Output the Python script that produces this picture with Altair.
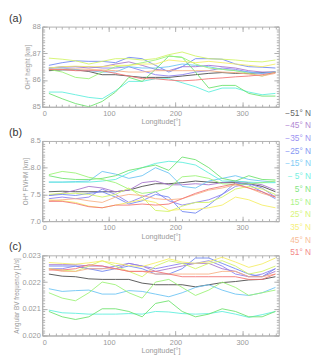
import altair as alt
import pandas as pd

# ---------------- data ----------------
lons = [10, 30, 50, 70, 90, 110, 130, 150, 170, 190, 210, 230, 250, 270, 290, 310, 330, 350]

lat_labels = ["−51° N", "−45° N", "−35° N", "−25° N", "−15° N", "− 5° N",
              "5° N", "15° N", "25° N", "35° N", "45° N", "51° N"]
lat_colors = ["#4a4a4a", "#a674cc", "#8c7ff0", "#6f86f2", "#6cc4f4", "#5eeedd",
              "#6ee26e", "#9cf276", "#d2f466", "#f5ee66", "#f8b286", "#f27474"]

height = {
    "−51° N": [86.35, 86.38, 86.38, 86.32, 86.2, 86.2, 86.15, 86.1, 86.1, 86.1, 86.15, 86.2, 86.25, 86.28, 86.25, 86.25, 86.28, 86.3],
    "−45° N": [86.45, 86.48, 86.5, 86.45, 86.5, 86.6, 86.68, 86.55, 86.4, 86.35, 86.5, 86.5, 86.55, 86.5, 86.45, 86.35, 86.3, 86.3],
    "−35° N": [86.45, 86.5, 86.5, 86.5, 86.45, 86.45, 86.5, 86.35, 86.2, 86.15, 86.2, 86.3, 86.35, 86.45, 86.4, 86.3, 86.25, 86.3],
    "−25° N": [86.55, 86.65, 86.72, 86.7, 86.7, 86.65, 86.85, 86.8, 86.55, 86.3, 86.5, 86.8, 86.8, 86.78, 86.6, 86.5, 86.48, 86.45],
    "−15° N": [86.45, 86.45, 86.4, 86.35, 86.3, 86.3, 86.5, 86.45, 86.45, 86.5, 86.6, 86.55, 86.5, 86.4, 86.35, 86.3, 86.25, 86.3],
    "− 5° N": [85.55, 85.55, 85.45, 85.35, 85.3, 85.6, 85.95, 85.95, 86.05, 86.05, 85.9, 85.75, 85.55, 85.7, 85.7, 85.55, 85.45, 85.5],
    "5° N":   [85.5, 85.3, 85.12, 85.0, 85.2, 85.55, 86.1, 85.95, 86.4, 86.9, 86.85, 86.3, 85.7, 85.8, 85.8, 85.5, 85.4, 85.4],
    "15° N":  [86.4, 86.3, 86.1, 86.05, 86.3, 86.5, 86.55, 86.65, 86.75, 86.9, 86.85, 86.6, 86.45, 86.4, 86.35, 86.25, 86.15, 86.3],
    "25° N":  [86.82, 86.78, 86.72, 86.6, 86.7, 86.8, 86.8, 86.75, 86.8, 86.95, 87.05, 86.9, 86.8, 86.78, 86.75, 86.7, 86.68, 86.75],
    "35° N":  [86.45, 86.5, 86.52, 86.5, 86.5, 86.55, 86.55, 86.6, 86.6, 86.75, 86.7, 86.65, 86.7, 86.65, 86.6, 86.55, 86.5, 86.6],
    "45° N":  [86.4, 86.4, 86.42, 86.4, 86.38, 86.35, 86.3, 86.3, 86.35, 86.35, 86.35, 86.35, 86.35, 86.3, 86.28, 86.22, 86.15, 86.25],
    "51° N":  [86.4, 86.4, 86.35, 86.35, 86.35, 86.25, 86.15, 86.05, 86.05, 86.0, 85.97, 86.0, 86.05, 86.08, 86.12, 86.15, 86.2, 86.28],
}

fwhm = {
    "−51° N": [7.55, 7.56, 7.55, 7.55, 7.55, 7.55, 7.58, 7.65, 7.7, 7.7, 7.72, 7.75, 7.73, 7.72, 7.72, 7.7, 7.65, 7.55],
    "−45° N": [7.48, 7.52, 7.58, 7.65, 7.62, 7.55, 7.58, 7.72, 7.75, 7.68, 7.68, 7.7, 7.68, 7.72, 7.75, 7.72, 7.68, 7.58],
    "−35° N": [7.42, 7.45, 7.42, 7.45, 7.6, 7.5, 7.35, 7.45, 7.55, 7.38, 7.3, 7.35, 7.4, 7.5, 7.65, 7.7, 7.62, 7.45],
    "−25° N": [7.48, 7.5, 7.48, 7.52, 7.55, 7.45, 7.32, 7.38, 7.5, 7.45, 7.18, 7.15, 7.3, 7.5, 7.72, 7.68, 7.55, 7.42],
    "−15° N": [7.73, 7.73, 7.74, 7.75, 7.93, 7.88, 7.8, 7.85, 8.0, 7.9, 7.65, 7.62, 7.75, 7.8, 7.85, 7.78, 7.75, 7.73],
    "− 5° N": [7.73, 7.73, 7.73, 7.73, 7.75, 7.78, 7.9, 8.0, 8.08, 8.12, 8.1, 8.05, 7.9, 7.75, 7.75, 7.73, 7.72, 7.72],
    "5° N":   [7.85, 7.8, 7.78, 7.78, 7.8, 7.85, 7.95, 8.0, 8.05, 7.95, 8.2, 8.15, 8.0, 7.8, 7.75, 7.85, 7.78, 7.77],
    "15° N":  [7.87, 7.93, 7.9, 7.82, 7.78, 7.72, 7.6, 7.52, 7.55, 7.62, 7.83, 7.85, 7.8, 7.7, 7.68, 7.7, 7.72, 7.75],
    "25° N":  [7.5, 7.52, 7.52, 7.5, 7.45, 7.5, 7.62, 7.45, 7.2, 7.18, 7.28, 7.35, 7.35, 7.45, 7.6, 7.65, 7.6, 7.5],
    "35° N":  [7.4, 7.38, 7.35, 7.28, 7.25, 7.3, 7.35, 7.4, 7.35, 7.2, 7.22, 7.22, 7.25, 7.3, 7.45, 7.4, 7.3, 7.25],
    "45° N":  [7.38, 7.4, 7.42, 7.38, 7.35, 7.45, 7.5, 7.48, 7.42, 7.4, 7.42, 7.5, 7.58, 7.62, 7.68, 7.62, 7.52, 7.45],
    "51° N":  [7.37, 7.37, 7.33, 7.27, 7.25, 7.3, 7.3, 7.32, 7.3, 7.32, 7.42, 7.52, 7.6, 7.65, 7.7, 7.62, 7.55, 7.45],
}

bvfreq = {
    "−51° N": [0.0223, 0.02222, 0.0222, 0.02212, 0.0221, 0.0221, 0.0221, 0.02196, 0.0219, 0.0219, 0.0219, 0.02182, 0.0219, 0.02198, 0.02202, 0.02208, 0.0221, 0.0222],
    "−45° N": [0.02265, 0.02265, 0.02265, 0.0226, 0.0226, 0.0225, 0.0227, 0.0226, 0.0224, 0.0225, 0.0226, 0.0227, 0.0227, 0.0225, 0.0224, 0.0222, 0.0222, 0.0224],
    "−35° N": [0.0225, 0.0225, 0.0226, 0.0225, 0.0225, 0.0226, 0.0227, 0.0226, 0.0225, 0.0226, 0.0227, 0.0227, 0.0228, 0.0226, 0.0223, 0.0222, 0.0223, 0.0225],
    "−25° N": [0.0226, 0.0226, 0.0226, 0.0225, 0.0224, 0.0225, 0.0226, 0.0225, 0.0223, 0.0223, 0.0225, 0.0229, 0.0229, 0.0227, 0.0225, 0.0223, 0.0222, 0.0225],
    "−15° N": [0.02175, 0.02165, 0.02168, 0.0217, 0.02155, 0.02155, 0.02168, 0.02165, 0.02155, 0.02145, 0.0216, 0.0218, 0.0219, 0.0217, 0.02155, 0.0215, 0.0216, 0.0218],
    "− 5° N": [0.02095, 0.02085, 0.02083, 0.0208, 0.0208, 0.0208, 0.02082, 0.0208, 0.0209, 0.02088, 0.02082, 0.0208, 0.02082, 0.0209, 0.0208, 0.02068, 0.02078, 0.0209],
    "5° N":   [0.0209, 0.0207, 0.0206, 0.0207, 0.021, 0.021, 0.0209, 0.0207, 0.0212, 0.0213, 0.0209, 0.0207, 0.0208, 0.021, 0.0209, 0.0207, 0.0207, 0.0209],
    "15° N":  [0.0216, 0.0214, 0.0213, 0.0216, 0.022, 0.0219, 0.0216, 0.0214, 0.022, 0.0221, 0.0218, 0.0215, 0.0217, 0.022, 0.0218, 0.0215, 0.0216, 0.0217],
    "25° N":  [0.0225, 0.02245, 0.0224, 0.0226, 0.0228, 0.0226, 0.0224, 0.0222, 0.0226, 0.0228, 0.0227, 0.0225, 0.0227, 0.0228, 0.0226, 0.0223, 0.0224, 0.0226],
    "35° N":  [0.02273, 0.0227, 0.02267, 0.02272, 0.02279, 0.0227, 0.02262, 0.02258, 0.02272, 0.02287, 0.02275, 0.0227, 0.02276, 0.02293, 0.02275, 0.02255, 0.02268, 0.0229],
    "45° N":  [0.0225, 0.0224, 0.0224, 0.0225, 0.0225, 0.0225, 0.0224, 0.0224, 0.0223, 0.0223, 0.0223, 0.0223, 0.0223, 0.0224, 0.0224, 0.0222, 0.0222, 0.0223],
    "51° N":  [0.02245, 0.02245, 0.0225, 0.02265, 0.0226, 0.0225, 0.0224, 0.0224, 0.0224, 0.0223, 0.0222, 0.0222, 0.0222, 0.0222, 0.0222, 0.0221, 0.0221, 0.0223],
}

x_major = [0, 100, 200, 300]
x_minor = list(range(0, 356, 10))

# ---------------- layout constants ----------------
W, H = 242, 82
FONT = "Liberation Sans"
GRAY = "#999999"
FRAME = "#b0b0b0"
color_scale = alt.Scale(domain=lat_labels, range=lat_colors)


def frange(a, b, step):
    n = int(round((b - a) / step))
    return [round(a + i * step, 6) for i in range(n + 1)]


def panel(series, letter, ytitle, ydomain, ymajor, yminor, yfmt, legend=False):
    rows = []
    for lab in lat_labels:
        for lon, v in zip(lons, series[lab]):
            rows.append({"lon": lon, "val": v, "lat": lab})
    df = pd.DataFrame(rows)
    xs = alt.Scale(domain=[0, 355], nice=False, zero=False)
    ys = alt.Scale(domain=ydomain, nice=False, zero=False)
    base = alt.Chart(df)

    main = base.mark_line(strokeWidth=0.9, clip=True).encode(
        x=alt.X("lon:Q", scale=xs, axis=alt.Axis(
            values=x_major, title="Longitude[°]", ticks=False, labelPadding=3,
            labelFontSize=7.5, labelColor=GRAY, labelFont=FONT, titleFont=FONT,
            titleFontSize=7.5, titleColor=GRAY, titleFontWeight="normal", titlePadding=1,
            domainColor=FRAME, grid=False)),
        y=alt.Y("val:Q", scale=ys, axis=alt.Axis(
            values=ymajor, format=yfmt, title=ytitle, ticks=False, labelPadding=2,
            labelFontSize=7.5, labelColor=GRAY, labelFont=FONT, titleFont=FONT,
            titleFontSize=6.5, titleColor=GRAY, titleFontWeight="normal", titlePadding=2,
            domainColor=FRAME, grid=False)),
        color=alt.Color("lat:N", scale=color_scale, legend=None),
        detail="lat:N",
    )

    def ticklayer(xorient, yorient, xvals, yvals, size):
        return base.mark_line(strokeOpacity=0).encode(
            x=alt.X("lon:Q", scale=xs, axis=alt.Axis(
                orient=xorient, offset=-H, values=xvals, labels=False, domain=False,
                title=None, tickSize=size, tickColor=FRAME, grid=False)),
            y=alt.Y("val:Q", scale=ys, axis=alt.Axis(
                orient=yorient, offset=-W, values=yvals, labels=False, domain=False,
                title=None, tickSize=size, tickColor=FRAME, grid=False)),
            detail="lat:N",
        )

    layers = [
        main,
        ticklayer("top", "right", x_major, ymajor, 5),
        ticklayer("bottom", "left", x_major, ymajor, 5),
        ticklayer("top", "right", x_minor, yminor, 2.5),
        ticklayer("bottom", "left", x_minor, yminor, 2.5),
    ]

    # panel letter
    tag = alt.Chart(pd.DataFrame({"tag": [letter]})).mark_text(
        align="left", baseline="middle", fontSize=11, font=FONT, color="#333333"
    ).encode(x=alt.value(-34), y=alt.value(-8), text="tag:N")
    layers.append(tag)

    if legend:
        ldf = pd.DataFrame({"lat": lat_labels})
        leg = alt.Chart(ldf).mark_text(align="right", baseline="middle", fontSize=8.5,
                                       font=FONT, opacity=0.85).encode(
            x=alt.value(W + 33),
            y=alt.Y("lat:N", sort=lat_labels,
                    scale=alt.Scale(type="point", range=[-29, 114], padding=0),
                    axis=None),
            color=alt.Color("lat:N", scale=color_scale, legend=None),
            text="lat:N",
        )
        layers.append(leg)

    ch = alt.layer(*layers).resolve_axis(x="independent", y="independent")
    if legend:
        ch = ch.resolve_scale(y="independent")
    return ch.properties(width=W, height=H)


pa = panel(height, "(a)", "OH* height  [km]", [85, 88], [85, 86, 87, 88],
           frange(85, 88, 0.1), ".0f")
pb = panel(fwhm, "(b)", "OH* FWHM [km]", [7.0, 8.5], [7.0, 7.5, 8.0, 8.5],
           frange(7.0, 8.5, 0.05), ".1f", legend=True)
pc = panel(bvfreq, "(c)", "Angular BV frequency  [1/s]", [0.020, 0.023],
           [0.020, 0.021, 0.022, 0.023], frange(0.020, 0.023, 0.0001), ".3f")

chart = alt.vconcat(pa, pb, pc, spacing=35, bounds="flush").configure_view(
    stroke=FRAME, strokeWidth=1
).properties(padding={"left": 0, "top": 0, "right": 0, "bottom": 0})

chart.save("out.html", embed_options={"renderer": "svg", "actions": False})
